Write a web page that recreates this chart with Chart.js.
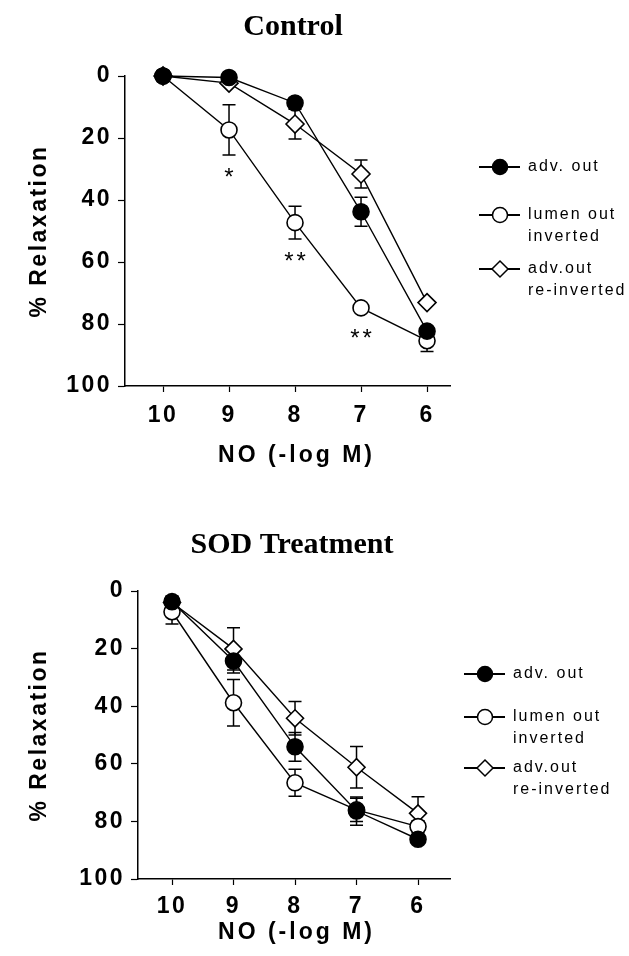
<!DOCTYPE html>
<html>
<head>
<meta charset="utf-8">
<script src="https://cdn.jsdelivr.net/npm/chart.js@4.4.1/dist/chart.umd.min.js"></script>
<style>
  html, body { margin: 0; padding: 0; background: #fff; }
  #wrap { position: relative; width: 629px; height: 956px; }
  canvas { position: absolute; left: 0; }
  #ctrl { top: 0; }
  #sod { top: 478px; }
</style>
</head>
<body>
<div id="wrap">
  <canvas id="ctrl" width="629" height="478"></canvas>
  <canvas id="sod" width="629" height="478"></canvas>
</div>
<script>
// NO dose, -log M
const doses = [10, 9, 8, 7, 6];
const seriesNames = [['adv. out'], ['lumen out', 'inverted'], ['adv.out', 're-inverted']];

// Control panel (% relaxation, mean and SEM)
const ctrlAdvOut = [0, 0.5, 8.7, 43.8, 82.3];
const ctrlAdvOutErr = [0, 0, 0, 4.7, 0];
const ctrlLumenOut = [0, 17.4, 47.3, 74.8, 85.4];
const ctrlLumenOutErr = [0, 8.1, 5.3, 0, 3.5];
const ctrlReInv = [0, 2.3, 15.5, 31.6, 73.1];
const ctrlReInvErr = [0, 0, 4.8, 4.5, 0];
const ctrlSig = ['', '*', '**', '**', ''];

// SOD treatment panel
const sodAdvOut = [3.7, 24.3, 54.1, 76.4, 86.2];
const sodAdvOutErr = [2, 4.2, 5, 4.9, 0];
const sodLumenOut = [7.2, 38.8, 66.6, 76, 81.8];
const sodLumenOutErr = [4.3, 8.1, 4.7, 4, 2];
const sodReInv = [4, 20.1, 44.2, 61.2, 77.2];
const sodReInvErr = [2, 7.3, 5.8, 7.2, 5.8];
const sodSig = ['', '', '', '', ''];

const SANS = "'Liberation Sans', Arial, sans-serif";
const SERIF = "'Liberation Serif', 'Times New Roman', serif";

function pts(vals) {
  return doses.map((d, i) => ({ x: d, y: vals[i] }));
}

function makeDatasets(adv, advErr, lum, lumErr, inv, invErr, rc, rd) {
  const base = { borderColor: '#000', borderWidth: 1.4, pointBorderColor: '#000', pointBorderWidth: 1.6, clip: false, tension: 0 };
  return [
    { ...base, label: 'adv. out', data: pts(adv), errors: advErr, pointStyle: 'circle', pointRadius: rc, pointBackgroundColor: '#000' },
    { ...base, label: 'lumen out inverted', data: pts(lum), errors: lumErr, pointStyle: 'circle', pointRadius: rc, pointBackgroundColor: '#fff' },
    { ...base, label: 'adv.out re-inverted', data: pts(inv), errors: invErr, pointStyle: 'rectRot', pointRadius: rd, pointBackgroundColor: '#fff' }
  ];
}

function drawMarker(ctx, ds, x, y, r) {
  ctx.beginPath();
  if (ds.pointStyle === 'rectRot') {
    ctx.moveTo(x, y - r); ctx.lineTo(x + r, y); ctx.lineTo(x, y + r); ctx.lineTo(x - r, y); ctx.closePath();
  } else {
    ctx.arc(x, y, r, 0, Math.PI * 2);
  }
  ctx.fillStyle = ds.pointBackgroundColor;
  ctx.fill();
  ctx.lineWidth = 1.5;
  ctx.strokeStyle = '#000';
  ctx.stroke();
}

function figurePlugin(p) {
  return {
    id: 'figureText',
    beforeDraw(chart) {
      chart.ctx.letterSpacing = '2.5px';
    },
    beforeDatasetsDraw(chart) {
      const { ctx, scales: { x, y } } = chart;
      ctx.save();
      ctx.strokeStyle = '#000';
      ctx.lineWidth = 1.5;
      chart.data.datasets.forEach(ds => {
        ds.data.forEach((pt, i) => {
          const e = ds.errors[i];
          if (!e) return;
          const px = x.getPixelForValue(pt.x);
          const t = y.getPixelForValue(pt.y - e);
          const b = y.getPixelForValue(pt.y + e);
          ctx.beginPath();
          ctx.moveTo(px, t); ctx.lineTo(px, b);
          ctx.moveTo(px - 6.5, t); ctx.lineTo(px + 6.5, t);
          ctx.moveTo(px - 6.5, b); ctx.lineTo(px + 6.5, b);
          ctx.stroke();
        });
      });
      ctx.restore();
    },
    afterDraw(chart) {
      const { ctx, scales: { x, y } } = chart;
      ctx.save();
      ctx.fillStyle = '#000';
      ctx.textAlign = 'center';
      ctx.textBaseline = 'middle';

      // panel title
      ctx.letterSpacing = '0px';
      ctx.font = 'bold 30px ' + SERIF;
      ctx.fillText(p.title, p.titleX, p.titleY);

      // x axis title, centred on the dose ticks
      ctx.letterSpacing = '3px';
      ctx.font = 'bold 23px ' + SANS;
      const cx = (x.getPixelForValue(doses[0]) + x.getPixelForValue(doses[doses.length - 1])) / 2;
      ctx.fillText('NO (-log M)', cx + 1.5, p.xTitleY);

      // significance marks under lumen out
      const lum = chart.data.datasets[1];
      ctx.font = '24px ' + SANS;
      ctx.textBaseline = 'alphabetic';
      p.sig.forEach((s, i) => {
        if (!s) return;
        const v = lum.data[i].y, e = lum.errors[i];
        const px = x.getPixelForValue(doses[i]);
        const cy = Math.max(y.getPixelForValue(v + e) + 17, y.getPixelForValue(v) + 25);
        ctx.fillText(s, px + 1.5, cy + 13);
      });

      // legend
      ctx.textAlign = 'left';
      ctx.textBaseline = 'middle';
      chart.data.datasets.forEach((ds, i) => {
        const ly = p.legendY[i];
        ctx.strokeStyle = '#000';
        ctx.lineWidth = 1.8;
        ctx.beginPath();
        ctx.moveTo(p.legendX - 21, ly); ctx.lineTo(p.legendX + 20, ly);
        ctx.stroke();
        drawMarker(ctx, ds, p.legendX, ly, ds.pointStyle === 'rectRot' ? 8 : 7.5);
        ctx.fillStyle = '#000';
        ctx.font = '16px ' + SANS;
        ctx.letterSpacing = '2px';
        seriesNames[i].forEach((t, k) => ctx.fillText(t, p.legendX + 28, ly + k * 22));
      });
      ctx.restore();
    }
  };
}

function makeChart(id, datasets, p) {
  const tickFont = { family: SANS, size: 23, weight: 'bold' };
  new Chart(document.getElementById(id), {
    type: 'line',
    data: { datasets },
    options: {
      responsive: false,
      animation: false,
      devicePixelRatio: 1,
      layout: { padding: { left: 0, top: p.top, right: 629 - p.right, bottom: 0 } },
      plugins: { legend: { display: false }, tooltip: { enabled: false } },
      scales: {
        x: {
          type: 'linear',
          reverse: true,
          min: p.xMin,
          max: p.xMax,
          afterBuildTicks: s => { s.ticks = doses.map(v => ({ value: v })); },
          afterFit: s => { s.height = 478 - p.bottom; },
          grid: { drawOnChartArea: false, drawTicks: true, tickLength: 6, tickColor: '#000', tickWidth: 1.2 },
          border: { display: true, color: '#000', width: 1.5 },
          ticks: { color: '#000', font: tickFont, padding: p.xTickPad, maxRotation: 0, autoSkip: false }
        },
        y: {
          reverse: true,
          min: 0,
          max: 100,
          afterFit: s => { s.width = p.left; },
          grid: { drawOnChartArea: false, drawTicks: true, tickLength: 7, tickColor: '#000', tickWidth: 1.2 },
          border: { display: true, color: '#000', width: 1.5 },
          ticks: { stepSize: 20, color: '#000', font: tickFont, padding: 6 },
          title: { display: true, text: '% Relaxation', color: '#000', font: { family: SANS, size: 23, weight: 'bold' }, padding: { top: 26, bottom: 0 } }
        }
      }
    },
    plugins: [figurePlugin(p)]
  });
}

makeChart('ctrl',
  makeDatasets(ctrlAdvOut, ctrlAdvOutErr, ctrlLumenOut, ctrlLumenOutErr, ctrlReInv, ctrlReInvErr, 8, 9),
  { title: 'Control', titleX: 293, titleY: 27, top: 76, bottom: 386, left: 125, right: 450,
    xMin: 5.652, xMax: 10.576, xTickPad: 10, xTitleY: 456, sig: ctrlSig,
    legendX: 500, legendY: [167, 215, 269] });

makeChart('sod',
  makeDatasets(sodAdvOut, sodAdvOutErr, sodLumenOut, sodLumenOutErr, sodReInv, sodReInvErr, 8, 8.5),
  { title: 'SOD Treatment', titleX: 292, titleY: 67, top: 113, bottom: 401, left: 138, right: 450,
    xMin: 5.48, xMax: 10.553, xTickPad: 8, xTitleY: 455, sig: sodSig,
    legendX: 485, legendY: [196, 239, 290] });
</script>
</body>
</html>
